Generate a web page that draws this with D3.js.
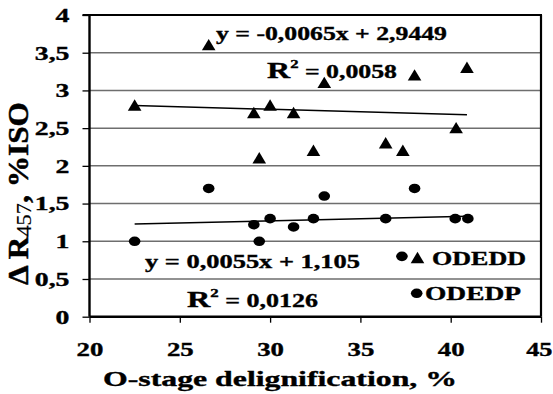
<!DOCTYPE html>
<html>
<head>
<meta charset="utf-8">
<script src="https://cdn.jsdelivr.net/npm/d3@7"></script>
<style>
  html, body { margin: 0; padding: 0; background: #fff; }
  svg { display: block; }
  text { font-family: "Liberation Serif", "Times New Roman", serif; font-weight: bold; fill: #000;
         stroke: #000; stroke-width: 0.35px; }
</style>
</head>
<body>
<svg id="chart" width="553" height="394"></svg>
<script>
// O-stage delignification (%) vs. brightness gain ΔR457 (%ISO)
const odeddX = [22.5, 26.6, 29.1, 30.0, 29.4, 31.3, 32.4, 33.0, 36.4, 37.35, 38.0, 40.3, 40.9];
const odeddY = [2.8, 3.6, 2.7, 2.8, 2.1, 2.7, 2.2, 3.1, 2.3, 2.2, 3.2, 2.5, 3.3];
const odedpX = [22.5, 26.6, 29.1, 30.0, 29.4, 31.3, 32.4, 33.0, 36.4, 37.3, 38.0, 40.25, 40.95];
const odedpY = [1.0, 1.7, 1.22, 1.3, 1.0, 1.19, 1.3, 1.6, 1.3, 0.8, 1.7, 1.3, 1.3];

// linear trend lines: slope, intercept, R²
const odeddFit = [-0.0065, 2.9449, 0.0058];
const odedpFit = [0.0055, 1.105, 0.0126];

const xTicks = [20, 25, 30, 35, 40, 45];
const yTicks = [0, 0.5, 1, 1.5, 2, 2.5, 3, 3.5, 4];
const seriesNames = ["ODEDD", "ODEDP"];

const svg = d3.select("#chart");
const x = d3.scaleLinear().domain([20, 45]).range([89.5, 541]);
const y = d3.scaleLinear().domain([0, 4]).range([316.7, 15]);
const comma = v => String(v).replace(".", ",");
const SX = 1.4; // wide lettering

// horizontal grid lines
svg.append("g").selectAll("line")
  .data(yTicks.filter(v => v > 0 && v < 4))
  .join("line")
  .attr("x1", x(20)).attr("x2", x(45))
  .attr("y1", d => y(d)).attr("y2", d => y(d))
  .attr("stroke", "#6e6e6e").attr("stroke-width", 1.5);

// frame: top and right border
svg.append("line").attr("x1", x(20) - 7).attr("x2", x(45) + 1)
  .attr("y1", y(4)).attr("y2", y(4)).attr("stroke", "#000").attr("stroke-width", 2.2);
svg.append("line").attr("x1", x(45)).attr("x2", x(45))
  .attr("y1", y(4)).attr("y2", y(0)).attr("stroke", "#000").attr("stroke-width", 2.2);

// axes
const yAxis = svg.append("g").attr("transform", `translate(${x(20)},0)`)
  .call(d3.axisLeft(y).tickValues(yTicks).tickSize(7).tickPadding(0).tickFormat(comma));
const xAxis = svg.append("g").attr("transform", `translate(0,${y(0)})`)
  .call(d3.axisBottom(x).tickValues(xTicks).tickSize(6).tickFormat(d => d));
[yAxis, xAxis].forEach(a => {
  a.select(".domain").attr("stroke", "#000").attr("stroke-width", 2.4);
  a.selectAll(".tick line").attr("stroke", "#000").attr("stroke-width", 1.3);
  a.selectAll("text").attr("font-family", null).attr("fill", null).style("font-size", "18.5px");
});
yAxis.select(".domain").attr("d", `M0,${y(0)}V${y(4)}`);
xAxis.select(".domain").attr("d", `M${x(20)},0H${x(45)}`);
yAxis.selectAll(".tick text")
  .attr("x", 0).attr("dy", "0.34em")
  .attr("text-anchor", "end")
  .attr("transform", `translate(-20,0) scale(1.5,1)`);
xAxis.selectAll(".tick text")
  .attr("y", 0).attr("dy", 0)
  .attr("text-anchor", (d, i, n) => i === n.length - 1 ? "end" : "middle")
  .attr("transform", (d, i, n) => i === n.length - 1
    ? `translate(11,39.5) scale(1.42,1)` : `translate(0,39.5) scale(1.45,1)`);

// trend lines over the span of each series
function trend(xs, fit) {
  const [m, b] = fit;
  const x0 = d3.min(xs), x1 = d3.max(xs);
  svg.append("line")
    .attr("x1", x(x0)).attr("y1", y(m * x0 + b))
    .attr("x2", x(x1)).attr("y2", y(m * x1 + b))
    .attr("stroke", "#000").attr("stroke-width", 1.5);
}
trend(odeddX, odeddFit);
trend(odedpX, odedpFit);

// markers
const tri = (cx, cy) => `M${cx - 6.8},${cy + 5.2}L${cx + 6.8},${cy + 5.2}L${cx},${cy - 6.2}Z`;
svg.append("g").selectAll("path")
  .data(d3.zip(odeddX, odeddY))
  .join("path")
  .attr("d", d => tri(x(d[0]), y(d[1])))
  .attr("fill", "#000");
svg.append("g").selectAll("ellipse")
  .data(d3.zip(odedpX, odedpY))
  .join("ellipse")
  .attr("cx", d => x(d[0])).attr("cy", d => y(d[1]))
  .attr("rx", 5.8).attr("ry", 4.8)
  .attr("fill", "#000");

// text helper: stretched lettering placed at (px, py)
function label(px, py, size, anchor, width) {
  const t = svg.append("text")
    .attr("transform", `translate(${px},${py}) scale(${SX},1)`)
    .attr("text-anchor", anchor)
    .style("font-size", size + "px");
  if (width) t.attr("textLength", width / SX).attr("lengthAdjust", "spacingAndGlyphs");
  return t;
}
const num = v => comma(v);
const eq = f => `y = ${f[0] < 0 ? "-" : ""}${num(Math.abs(f[0]))}x + ${num(f[1])}`;

// equation labels
label(216, 40, 18.5, "start", 231).text(eq(odeddFit));
label(145, 268, 18.5, "start", 215).text(eq(odedpFit));

function r2(px, py, fit, width) {
  const t = label(px, py, 18.5, "start", width);
  t.append("tspan").style("font-size", "23px").text("R");
  t.append("tspan").attr("dy", -10).style("font-size", "12px").text("2");
  t.append("tspan").attr("dy", 10).text("  = " + num(fit[2]));
}
r2(267, 78, odeddFit, 130);
r2(187, 307, odedpFit, 131);

// legend
svg.append("path").attr("d", tri(417.5, 258)).attr("fill", "#000");
svg.append("ellipse").attr("cx", 416.7).attr("cy", 293.3).attr("rx", 5.8).attr("ry", 4.8).attr("fill", "#000");
label(432, 265, 18, "start", 94).text(seriesNames[0]);
label(425, 300, 18, "start", 96).text(seriesNames[1]);

// axis titles
label(280, 386, 21, "middle", 354).text("O-stage delignification, %");

const yt = svg.append("text")
  .attr("transform", `translate(28,193.5) scale(${SX},1) rotate(-90)`)
  .attr("text-anchor", "middle")
  .attr("textLength", 183).attr("lengthAdjust", "spacingAndGlyphs")
  .style("font-size", "21px");
yt.append("tspan").text("Δ R");
yt.append("tspan").attr("dy", 2).style("font-size", "15px").style("font-weight", "normal").style("stroke-width", "0.1px").text("457");
yt.append("tspan").attr("dy", -2).text(", %ISO");
</script>
</body>
</html>
